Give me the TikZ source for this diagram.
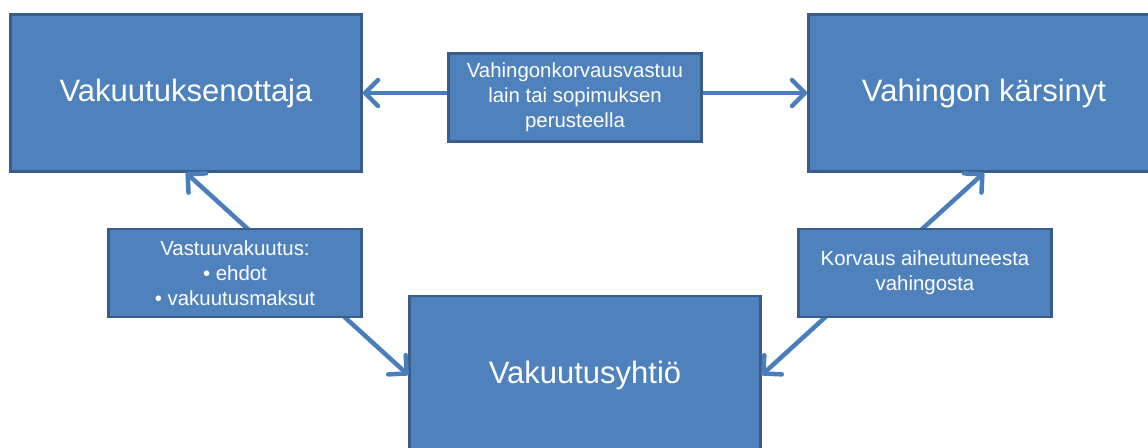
\documentclass[tikz,border=0pt]{standalone}
\usepackage{fontspec}
\setmainfont{Liberation Sans}
\usetikzlibrary{arrows.meta}

\definecolor{boxblue}{HTML}{4F81BD}
\definecolor{boxedge}{HTML}{385D8A}
\definecolor{linkblue}{HTML}{4A7EBB}

\begin{document}
\begin{tikzpicture}[x=1pt, y=-1pt,
    party/.style={draw=boxedge, fill=boxblue, line width=2.5pt, text=white,
      minimum width=351pt, minimum height=157pt, inner sep=0pt,
      font=\fontsize{31}{36}\selectfont},
    note/.style={draw=boxedge, fill=boxblue, line width=2.5pt, text=white,
      minimum width=253pt, minimum height=88pt, inner sep=0pt, align=center,
      font=\fontsize{20.4}{25}\selectfont},
    barb/.tip={Straight Barb[length=13pt, width=26pt, line width=4.5pt, round]},
    link/.style={draw=linkblue, line width=4.5pt, barb-barb}]
    \useasboundingbox (0,0) rectangle (1148,447);
    \clip (0,0) rectangle (1148,447);

    \node[party] (ottaja) at (186,93) {Vakuutuksenottaja};
    \node[party] (karsinyt) at (984,93) {Vahingon kärsinyt};
    \node[party, minimum height=158pt] (yhtio) at (585,375) {Vakuutusyhtiö};

    \draw[link] (ottaja.east) -- (karsinyt.west);
    \draw[link] (ottaja.south) -- (yhtio.west);
    \draw[link] (karsinyt.south) -- (yhtio.east);

    \node[note] (vastuu) at (575,97.5) {Vahingonkorvausvastuu\\lain tai sopimuksen\\perusteella};
    \node[note] (vakuutus) at (235,273) {Vastuuvakuutus:\\• ehdot\\• vakuutusmaksut};
    \node[note] (korvaus) at (925,273) {Korvaus aiheutuneesta\\vahingosta};
  \end{tikzpicture}
\end{document}
